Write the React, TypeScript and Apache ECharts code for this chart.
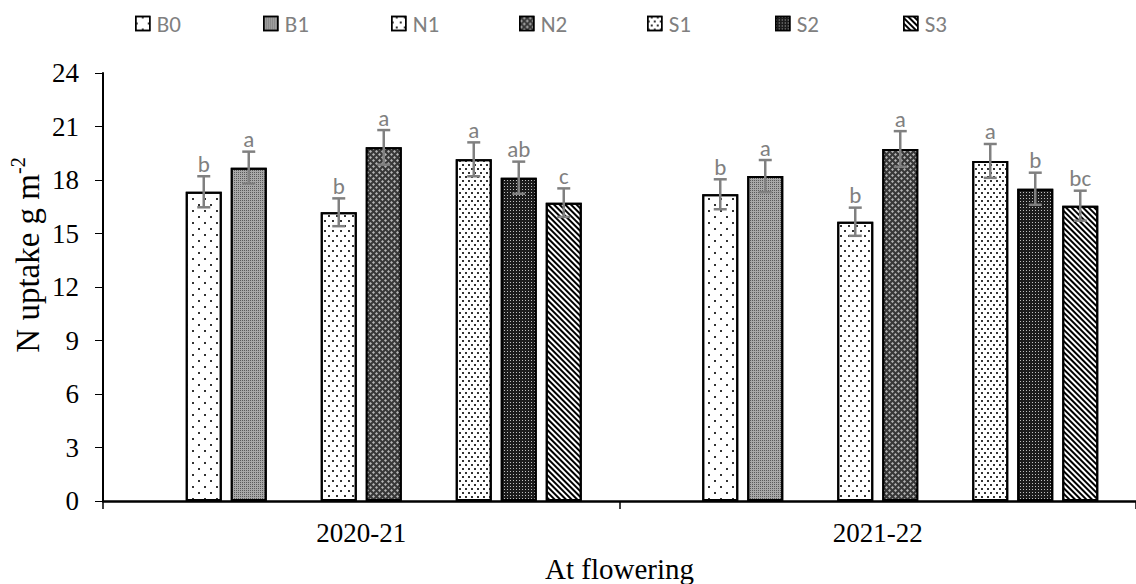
import React, { useEffect, useRef } from 'react';
import * as echarts from 'echarts';

// ---------- data ----------
const categories = ['2020-21', '2021-22'];
const seriesNames = ['B0', 'B1', 'N1', 'N2', 'S1', 'S2', 'S3'];

const valB0 = [17.34, 17.2];
const valB1 = [18.69, 18.22];
const valN1 = [16.19, 15.66];
const valN2 = [19.83, 19.74];
const valS1 = [19.16, 19.07];
const valS2 = [18.13, 17.51];
const valS3 = [16.73, 16.56];

const errB0 = [0.87, 0.84];
const errB1 = [0.9, 0.9];
const errN1 = [0.78, 0.79];
const errN2 = [0.97, 1.0];
const errS1 = [0.95, 0.95];
const errS2 = [0.9, 0.9];
const errS3 = [0.8, 0.84];

const letB0 = ['b', 'b'];
const letB1 = ['a', 'a'];
const letN1 = ['b', 'b'];
const letN2 = ['a', 'a'];
const letS1 = ['a', 'a'];
const letS2 = ['ab', 'b'];
const letS3 = ['c', 'bc'];

const yTicks = [0, 3, 6, 9, 12, 15, 18, 21, 24];

const allValues = [valB0, valB1, valN1, valN2, valS1, valS2, valS3];
const allErrors = [errB0, errB1, errN1, errN2, errS1, errS2, errS3];
const allLetters = [letB0, letB1, letN1, letN2, letS1, letS2, letS3];

// ---------- layout / style ----------
const SLOT_COUNT = 10;
const seriesSlots = [1, 2, 4, 5, 7, 8, 9];
const BAR_WIDTH = 36;
const BAR_PITCH = BAR_WIDTH * 1.25;
const LEGEND_LEFT = 135;
const LEGEND_STEP = 128;
const SANS = 'Carlito, Calibri, Lato, sans-serif';
const SERIF = '"Liberation Serif", "Times New Roman", serif';

const decals: any[] = [
  // B0 sparse dots
  { symbol: 'rect', symbolSize: 1, color: '#333', dashArrayX: [[2, 10], [0, 6, 2, 4]], dashArrayY: [2, 4] },
  // B1 grey fine
  { symbol: 'rect', symbolSize: 1, color: '#5a5a5a', dashArrayX: [1, 1], dashArrayY: [1, 1] },
  // N1 medium dots
  { symbol: 'rect', symbolSize: 1, color: '#333', dashArrayX: [[2, 6], [0, 4, 2, 2]], dashArrayY: [2, 3] },
  // N2 dark lattice
  { symbol: 'diamond', symbolSize: 1, color: '#b5b5b5', dashArrayX: [[3, 3], [0, 3, 3, 0]], dashArrayY: [3, 0] },
  // S1 dense dots
  { symbol: 'rect', symbolSize: 1, color: '#333', dashArrayX: [[2, 4], [0, 3, 2, 1]], dashArrayY: [2, 2] },
  // S2 dark grid
  { symbol: 'rect', symbolSize: 1, color: '#c0c0c0', dashArrayX: [1, 2], dashArrayY: [1, 2] },
  // S3 diagonal stripes
  { symbol: 'rect', symbolSize: 1, color: '#000', dashArrayX: [1, 0], dashArrayY: [1.8, 1.8], rotation: Math.PI / 4 },
];
const fills = ['#ffffff', '#a8a8a8', '#ffffff', '#383838', '#ffffff', '#1c1c1c', '#ffffff'];

export default function App() {
  const ref = useRef<HTMLDivElement>(null);

  useEffect(() => {
    if (!ref.current) return;
    const chart = echarts.init(ref.current, undefined, { renderer: 'svg' });

    const series: any[] = [];
    for (let slot = 0; slot < SLOT_COUNT; slot++) {
      const si = seriesSlots.indexOf(slot);
      if (si < 0) {
        series.push({
          type: 'bar',
          name: '_gap' + slot,
          data: categories.map(() => null),
          barWidth: BAR_WIDTH,
          barGap: '25%',
          silent: true,
        });
      } else {
        series.push({
          type: 'bar',
          name: seriesNames[si],
          data: allValues[si],
          barWidth: BAR_WIDTH,
          barGap: '25%',
          itemStyle: {
            color: fills[si],
            borderColor: '#000',
            borderWidth: 2,
            decal: decals[si],
          },
        });
      }
    }

    const errData: number[][] = [];
    const errSlots: number[] = [];
    const errLetters: string[] = [];
    allValues.forEach((vals, si) => {
      vals.forEach((v, ci) => {
        errData.push([ci, v, allErrors[si][ci]]);
        errSlots.push(seriesSlots[si]);
        errLetters.push(allLetters[si][ci]);
      });
    });

    series.push({
      type: 'custom',
      name: 'err',
      silent: true,
      z: 10,
      encode: { x: 0, y: 1 },
      data: errData,
      renderItem: (params: any, api: any) => {
        const i = params.dataIndex;
        const cat = api.value(0);
        const v = api.value(1);
        const e = api.value(2);
        const base = api.coord([cat, v]);
        const top = api.coord([cat, v + e]);
        const bot = api.coord([cat, v - e]);
        const x = base[0] + (errSlots[i] - (SLOT_COUNT - 1) / 2) * BAR_PITCH;
        const cap = 6.5;
        const st = { stroke: '#808080', lineWidth: 2.5 };
        return {
          type: 'group',
          children: [
            { type: 'line', shape: { x1: x, y1: top[1], x2: x, y2: bot[1] }, style: st },
            { type: 'line', shape: { x1: x - cap, y1: top[1], x2: x + cap, y2: top[1] }, style: st },
            { type: 'line', shape: { x1: x - cap, y1: bot[1], x2: x + cap, y2: bot[1] }, style: st },
            {
              type: 'text',
              x,
              y: top[1] - 1,
              style: {
                text: errLetters[i],
                align: 'center',
                verticalAlign: 'bottom',
                fontSize: 23,
                fontFamily: SANS,
                fill: '#808080',
              },
            },
          ],
        };
      },
    });

    const legends = seriesNames.map((name, i) => ({
      data: [name],
      left: LEGEND_LEFT + LEGEND_STEP * i,
      top: 12,
      padding: 0,
      icon: 'rect',
      itemWidth: 14,
      itemHeight: 14,
      itemStyle: { borderColor: '#000', borderWidth: 1.5 },
      textStyle: { fontSize: 23, fontFamily: SANS, color: '#808080', padding: [0, 0, 0, 2] },
      selectedMode: false,
    }));

    chart.setOption({
      animation: false,
      backgroundColor: '#ffffff',
      grid: { left: 103, right: 0, top: 73, bottom: 83, containLabel: false, outerBoundsMode: 'none' },
      legend: legends,
      xAxis: {
        type: 'category',
        data: categories,
        boundaryGap: true,
        axisLine: { show: true, lineStyle: { color: '#000', width: 2.5 } },
        axisTick: { show: true, length: 8, lineStyle: { color: '#000', width: 1.5 } },
        axisLabel: { fontSize: 27, fontFamily: SERIF, color: '#000', margin: 18 },
        name: 'At flowering',
        nameLocation: 'middle',
        nameGap: 53,
        nameTextStyle: { fontSize: 29, fontFamily: SERIF, color: '#000' },
      },
      yAxis: {
        type: 'value',
        min: yTicks[0],
        max: yTicks[yTicks.length - 1],
        interval: yTicks[1] - yTicks[0],
        axisLine: { show: true, lineStyle: { color: '#000', width: 2 } },
        axisTick: { show: true, length: 8, lineStyle: { color: '#000', width: 1 } },
        splitLine: { show: false },
        axisLabel: { fontSize: 27, fontFamily: SERIF, color: '#000', margin: 24 },
      },
      graphic: [
        {
          type: 'text',
          x: 26,
          y: 255,
          rotation: Math.PI / 2,
          style: {
            text: '{a|N uptake g m}{s|-2}',
            align: 'center',
            verticalAlign: 'middle',
            rich: {
              a: { fontSize: 33, fontFamily: SERIF, fill: '#000', lineHeight: 36, verticalAlign: 'bottom' },
              s: { fontSize: 20, fontFamily: SERIF, fill: '#000', lineHeight: 22, verticalAlign: 'top' },
            },
          },
        },
      ],
      series,
    });

    return () => chart.dispose();
  }, []);

  return (
    <div
      ref={ref}
      style={{ position: 'fixed', left: 0, top: 0, width: 1136, height: 584, background: '#fff' }}
    />
  );
}
